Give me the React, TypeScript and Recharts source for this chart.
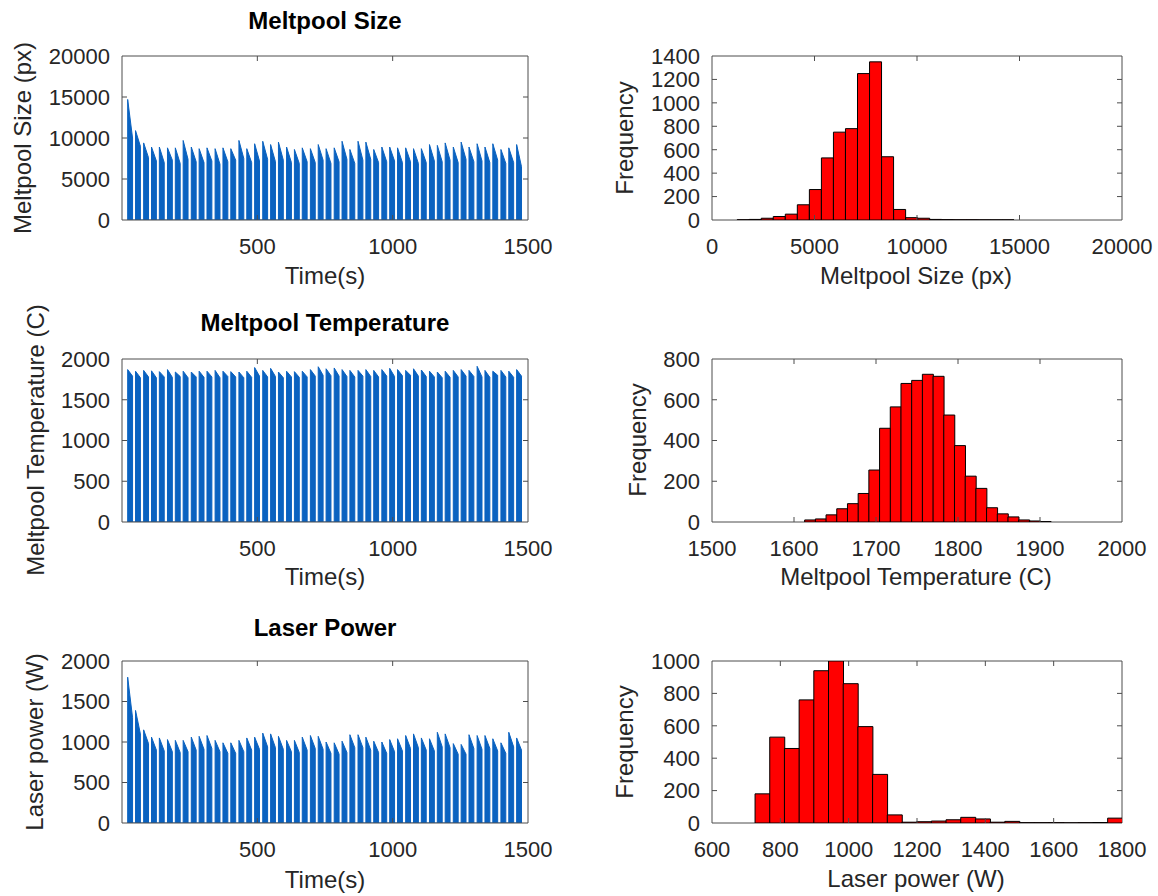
import React from 'react';
import { ComposedChart, BarChart, Area, Bar, XAxis, YAxis, ReferenceLine, ReferenceArea } from 'recharts';

const FONT = '"Liberation Sans", Arial, Helvetica, sans-serif';
const INK = '#262626';
const FRAME = '#4d4d4d';
const BLUE = '#0a62c0';
const RED = '#ff0000';

// start time (s) of each deposited layer
const layerStart = [
  21, 50, 80, 109, 138, 168, 197, 226, 256, 285,
  314, 344, 373, 402, 432, 461, 490, 520, 549, 578,
  608, 637, 666, 696, 725, 754, 784, 813, 842, 872,
  901, 930, 960, 989, 1018, 1048, 1077, 1106, 1136, 1165,
  1194, 1224, 1253, 1282, 1312, 1341, 1370, 1400, 1429, 1458,
];
const LAYER_ON = 18; // laser-on time per layer (s)

// meltpool size per layer: value at laser-on and at end of the layer (px)
const sizePeak = [
  14700, 10900, 9400, 8900, 8900, 8800, 8800, 9700, 8900, 8700,
  8800, 8700, 8800, 8700, 9700, 8700, 9300, 9600, 9200, 9500,
  8900, 8600, 8800, 8700, 9200, 8700, 8800, 9600, 8600, 9600,
  9500, 8600, 8900, 8900, 8800, 8800, 8700, 8700, 9200, 9100,
  9400, 8900, 9500, 8900, 9300, 8900, 9300, 8600, 8800, 9200,
];
const sizeEnd = [
  10000, 9000, 7600, 7200, 7000, 7300, 6900, 7400, 7100, 7000,
  7200, 6800, 7100, 7300, 7500, 7000, 7200, 7400, 7100, 7300,
  7000, 6900, 7100, 7000, 7300, 6900, 7100, 7400, 6900, 7300,
  7400, 7000, 7100, 7200, 7000, 7100, 6900, 7000, 7200, 7100,
  7300, 7000, 7400, 7100, 7200, 7000, 7300, 6900, 7000, 6500,
];

// meltpool temperature per layer (C)
const tempPeak = [
  1870, 1850, 1860, 1855, 1845, 1870, 1840, 1850, 1840, 1850,
  1850, 1860, 1850, 1845, 1840, 1850, 1895, 1860, 1885, 1840,
  1850, 1845, 1850, 1870, 1905, 1880, 1890, 1870, 1860, 1860,
  1870, 1860, 1870, 1885, 1870, 1860, 1880, 1865, 1850, 1840,
  1850, 1860, 1870, 1860, 1910, 1860, 1850, 1860, 1850, 1870,
];
const tempEnd = [
  1790, 1770, 1780, 1770, 1780, 1775, 1785, 1770, 1780, 1775,
  1780, 1770, 1785, 1780, 1770, 1775, 1790, 1780, 1785, 1770,
  1780, 1775, 1780, 1790, 1800, 1795, 1790, 1785, 1780, 1790,
  1785, 1780, 1790, 1785, 1795, 1800, 1790, 1785, 1780, 1770,
  1775, 1780, 1790, 1785, 1780, 1775, 1800, 1780, 1775, 1790,
];

// laser power per layer (W)
const powerPeak = [
  1800, 1390, 1150, 1060, 1050, 1030, 1020, 1020, 1060, 1070,
  1080, 1020, 990, 990, 1020, 1050, 1060, 1110, 1100, 1070,
  1020, 1020, 1060, 1080, 1070, 1000, 990, 1010, 1090, 1090,
  1060, 1010, 1000, 1030, 1040, 1080, 1100, 1050, 1040, 1120,
  1100, 980, 970, 1090, 1080, 1080, 1040, 990, 1120, 1050,
];
const powerEnd = [
  1300, 1100, 980, 900, 890, 880, 870, 880, 900, 910,
  920, 880, 860, 860, 880, 900, 910, 940, 930, 910,
  880, 870, 900, 920, 910, 860, 850, 870, 930, 930,
  900, 870, 860, 880, 890, 920, 930, 900, 890, 940,
  930, 850, 850, 920, 910, 920, 890, 860, 940, 900,
];

// histograms: first bin edge, bin width, counts
const SIZE_BIN0 = 54;
const SIZE_BINW = 587;
const sizeCounts = [
  0, 0, 2, 5, 15, 30, 50, 130, 260, 530, 750, 780, 1250, 1350, 540,
  90, 20, 15, 5, 3, 2, 2, 1, 1, 1, 0,
];

const TEMP_BIN0 = 1613;
const TEMP_BINW = 13.05;
const tempCounts = [
  10, 15, 35, 65, 90, 140, 255, 460, 565, 680, 695, 725, 715, 525, 375,
  225, 165, 70, 40, 25, 10, 5, 2,
];

const POWER_BIN0 = 726;
const POWER_BINW = 43;
const powerCounts = [
  180, 530, 460, 760, 940, 1000, 860, 595, 300, 50, 5, 8, 12, 20, 35,
  25, 5, 10, 2, 2, 2, 1, 2, 3, 30,
];

const timeTicks = [500, 1000, 1500];
const sizeTicks = [0, 5000, 10000, 15000, 20000];
const tempTicks = [0, 500, 1000, 1500, 2000];
const powerTicks = [0, 500, 1000, 1500, 2000];
const sizeHistX = [0, 5000, 10000, 15000, 20000];
const sizeHistY = [0, 200, 400, 600, 800, 1000, 1200, 1400];
const tempHistX = [1500, 1600, 1700, 1800, 1900, 2000];
const tempHistY = [0, 200, 400, 600, 800];
const powerHistX = [600, 800, 1000, 1200, 1400, 1600, 1800];
const powerHistY = [0, 200, 400, 600, 800, 1000];

function layerTrace(peak: number[], end: number[]) {
  const pts: { t: number; v: number }[] = [];
  layerStart.forEach((t0, i) => {
    pts.push({ t: t0, v: 0 });
    pts.push({ t: t0, v: peak[i] });
    pts.push({ t: t0 + LAYER_ON, v: end[i] });
    pts.push({ t: t0 + LAYER_ON, v: 0 });
  });
  return pts;
}

function histRows(bin0: number, w: number, counts: number[]) {
  return counts.map((n, i) => ({ x: bin0 + w * (i + 0.5), n }));
}

const tickStyle = { fontSize: 22, fill: INK, fontFamily: FONT };
const TICK_LEN = 5;

// inward tick marks on both sides of the box, matlab style
const xTickShape = (p: any) => {
  const top = Math.min(p.y1, p.y2);
  const bot = Math.max(p.y1, p.y2);
  return (
    <g>
      <line x1={p.x1} x2={p.x1} y1={bot} y2={bot - TICK_LEN} stroke={FRAME} />
      <line x1={p.x1} x2={p.x1} y1={top} y2={top + TICK_LEN} stroke={FRAME} />
    </g>
  );
};
const yTickShape = (p: any) => {
  const l = Math.min(p.x1, p.x2);
  const r = Math.max(p.x1, p.x2);
  return (
    <g>
      <line x1={l} x2={l + TICK_LEN} y1={p.y1} y2={p.y1} stroke={FRAME} />
      <line x1={r} x2={r - TICK_LEN} y1={p.y1} y2={p.y1} stroke={FRAME} />
    </g>
  );
};

function frame(xd: number[], yd: number[], xt: number[], yt: number[]) {
  const out: React.ReactNode[] = [];
  xt.filter((v) => v > xd[0] && v < xd[1]).forEach((v) =>
    out.push(<ReferenceLine key={'x' + v} x={v} shape={xTickShape} />)
  );
  yt.filter((v) => v > yd[0] && v < yd[1]).forEach((v) =>
    out.push(<ReferenceLine key={'y' + v} y={v} shape={yTickShape} />)
  );
  out.push(
    <ReferenceArea key="box" x1={xd[0]} x2={xd[1]} y1={yd[0]} y2={yd[1]} fill="none" stroke={FRAME} strokeWidth={1} />
  );
  return out;
}

const Caption = ({ x, y, text, rotate, bold }: { x: number; y: number; text: string; rotate?: boolean; bold?: boolean }) => (
  <div
    style={{
      position: 'absolute',
      left: x,
      top: y,
      transform: `translate(-50%, -50%)${rotate ? ' rotate(-90deg)' : ''}`,
      fontFamily: FONT,
      fontSize: 24,
      fontWeight: bold ? 700 : 400,
      color: bold ? '#000' : INK,
      whiteSpace: 'nowrap',
      lineHeight: 1,
    }}
  >
    {text}
  </div>
);

const PLOT_TOP = 56;

function TracePanel({ top, h, data, yMax, yTicks }: { top: number; h: number; data: any[]; yMax: number; yTicks: number[] }) {
  return (
    <div style={{ position: 'absolute', left: 0, top: top - PLOT_TOP }}>
      <ComposedChart width={580} height={PLOT_TOP + h + 80} data={data} margin={{ top: PLOT_TOP, right: 52, bottom: 0, left: 0 }}>
        <XAxis
          type="number"
          dataKey="t"
          domain={[0, 1500]}
          ticks={timeTicks}
          interval={0}
          allowDataOverflow
          axisLine={false}
          tickLine={false}
          tickSize={0}
          tickMargin={18}
          height={80}
          tick={tickStyle}
        />
        <YAxis
          type="number"
          domain={[0, yMax]}
          ticks={yTicks}
          interval={0}
          allowDataOverflow
          axisLine={false}
          tickLine={false}
          tickSize={0}
          tickMargin={12}
          width={122}
          tick={tickStyle}
        />
        <Area
          type="linear"
          dataKey="v"
          stroke={BLUE}
          strokeWidth={1}
          fill={BLUE}
          fillOpacity={1}
          dot={false}
          activeDot={false}
          isAnimationActive={false}
        />
        {frame([0, 1500], [0, yMax], timeTicks, yTicks)}
      </ComposedChart>
    </div>
  );
}

function HistPanel({ top, h, data, xTicks, yTicks }: { top: number; h: number; data: any[]; xTicks: number[]; yTicks: number[] }) {
  const xd = [xTicks[0], xTicks[xTicks.length - 1]];
  const yd = [yTicks[0], yTicks[yTicks.length - 1]];
  return (
    <div style={{ position: 'absolute', left: 580, top: top - PLOT_TOP }}>
      <BarChart
        width={580}
        height={PLOT_TOP + h + 80}
        data={data}
        barCategoryGap={0}
        barGap={0}
        margin={{ top: PLOT_TOP, right: 38, bottom: 0, left: 0 }}
      >
        <XAxis
          type="number"
          dataKey="x"
          domain={xd}
          ticks={xTicks}
          interval={0}
          allowDataOverflow
          axisLine={false}
          tickLine={false}
          tickSize={0}
          tickMargin={18}
          height={80}
          tick={tickStyle}
        />
        <YAxis
          type="number"
          domain={yd}
          ticks={yTicks}
          interval={0}
          allowDataOverflow
          axisLine={false}
          tickLine={false}
          tickSize={0}
          tickMargin={12}
          width={132}
          tick={tickStyle}
        />
        <Bar dataKey="n" fill={RED} stroke="#000" strokeWidth={1} isAnimationActive={false} />
        {frame(xd, yd, xTicks, yTicks)}
      </BarChart>
    </div>
  );
}

export default function App() {
  const sizeTrace = layerTrace(sizePeak, sizeEnd);
  const tempTrace = layerTrace(tempPeak, tempEnd);
  const powerTrace = layerTrace(powerPeak, powerEnd);
  return (
    <div style={{ position: 'absolute', left: 0, top: 0, width: 1158, height: 896, background: '#fff', fontFamily: FONT }}>
      <TracePanel top={56} h={164} data={sizeTrace} yMax={20000} yTicks={sizeTicks} />
      <TracePanel top={359} h={163} data={tempTrace} yMax={2000} yTicks={tempTicks} />
      <TracePanel top={661} h={162} data={powerTrace} yMax={2000} yTicks={powerTicks} />

      <HistPanel top={56} h={164} data={histRows(SIZE_BIN0, SIZE_BINW, sizeCounts)} xTicks={sizeHistX} yTicks={sizeHistY} />
      <HistPanel top={359} h={163} data={histRows(TEMP_BIN0, TEMP_BINW, tempCounts)} xTicks={tempHistX} yTicks={tempHistY} />
      <HistPanel top={661} h={162} data={histRows(POWER_BIN0, POWER_BINW, powerCounts)} xTicks={powerHistX} yTicks={powerHistY} />

      <Caption x={325} y={21} text="Meltpool Size" bold />
      <Caption x={325} y={323} text="Meltpool Temperature" bold />
      <Caption x={325} y={628} text="Laser Power" bold />

      <Caption x={23} y={138} text="Meltpool Size (px)" rotate />
      <Caption x={36} y={440} text="Meltpool Temperature (C)" rotate />
      <Caption x={35} y={742} text="Laser power (W)" rotate />
      <Caption x={625} y={138} text="Frequency" rotate />
      <Caption x={638} y={440} text="Frequency" rotate />
      <Caption x={625} y={742} text="Frequency" rotate />

      <Caption x={325} y={276} text="Time(s)" />
      <Caption x={325} y={577} text="Time(s)" />
      <Caption x={325} y={880} text="Time(s)" />
      <Caption x={916} y={276} text="Meltpool Size (px)" />
      <Caption x={916} y={577} text="Meltpool Temperature (C)" />
      <Caption x={916} y={879} text="Laser power (W)" />
    </div>
  );
}
